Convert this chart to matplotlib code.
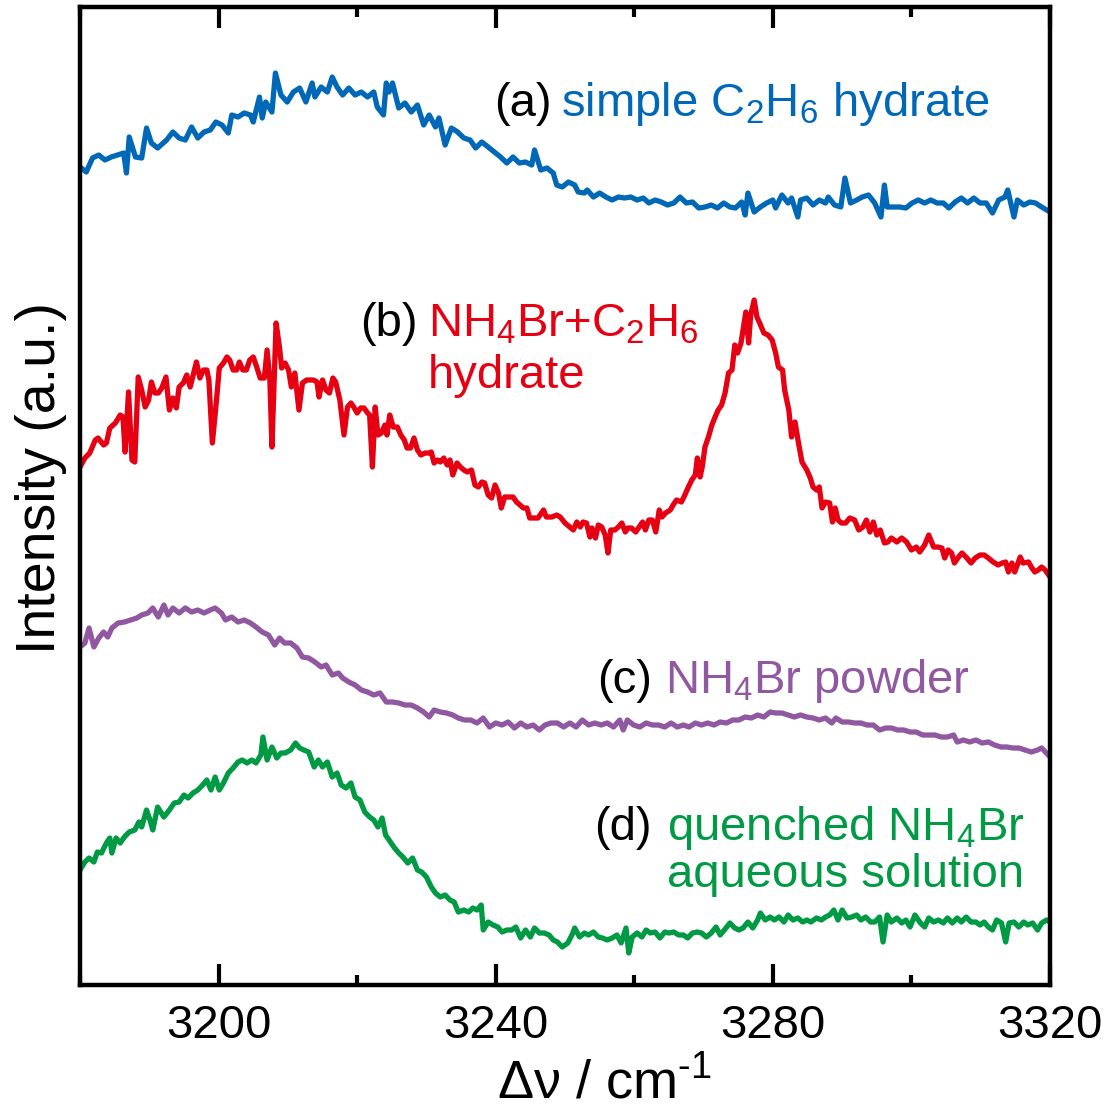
import matplotlib
matplotlib.use('Agg')
import matplotlib.pyplot as plt
from matplotlib.ticker import MultipleLocator

plt.rcParams['font.family'] = ['Liberation Sans', 'DejaVu Sans']
plt.rcParams['mathtext.fontset'] = 'custom'
plt.rcParams['mathtext.rm'] = 'Liberation Sans'
plt.rcParams['mathtext.it'] = 'Liberation Sans:italic'
plt.rcParams['mathtext.bf'] = 'Liberation Sans:bold'

# (a) simple C2H6 hydrate
wn_a = [3180.0, 3180.9, 3181.8, 3182.7, 3183.6, 3184.5, 3185.4, 3186.3, 3186.7, 3187.1,
        3188.0, 3188.9, 3189.6, 3190.3, 3191.2, 3192.5, 3193.4, 3194.3, 3195.2, 3196.1,
        3197.0, 3197.9, 3198.8, 3199.6, 3200.5, 3201.4, 3201.9, 3202.8, 3203.7, 3204.6,
        3205.0, 3205.9, 3206.3, 3206.8, 3207.7, 3208.2, 3209.0, 3209.9, 3210.8, 3211.7,
        3212.6, 3213.5, 3213.9, 3214.8, 3215.7, 3216.4, 3217.1, 3217.9, 3218.8, 3219.7,
        3220.6, 3221.5, 3222.4, 3222.9, 3223.8, 3224.2, 3224.6, 3225.1, 3226.0, 3226.9,
        3227.8, 3228.7, 3229.6, 3230.4, 3231.3, 3231.8, 3232.7, 3233.6, 3234.5, 3235.4,
        3236.3, 3237.1, 3238.0, 3238.9, 3239.8, 3240.7, 3241.6, 3242.5, 3243.4, 3244.3,
        3245.2, 3245.6, 3246.5, 3247.4, 3248.3, 3248.8, 3249.6, 3250.5, 3251.4, 3251.9,
        3252.8, 3253.2, 3254.1, 3255.0, 3255.9, 3256.8, 3257.7, 3258.6, 3259.5, 3260.4,
        3261.3, 3262.1, 3263.0, 3263.9, 3264.8, 3265.7, 3266.6, 3267.5, 3268.4, 3269.3,
        3270.2, 3271.1, 3272.0, 3272.9, 3273.8, 3274.6, 3275.5, 3276.0, 3276.4, 3277.3,
        3278.2, 3279.1, 3280.0, 3280.4, 3281.3, 3282.2, 3282.7, 3283.6, 3284.0, 3284.9,
        3285.8, 3286.7, 3287.6, 3288.0, 3288.9, 3289.8, 3290.4, 3291.2, 3292.1, 3292.9,
        3293.8, 3294.7, 3295.6, 3296.1, 3296.5, 3297.4, 3298.3, 3299.2, 3300.1, 3301.0,
        3301.9, 3302.8, 3303.7, 3304.6, 3305.4, 3306.3, 3307.2, 3308.1, 3309.0, 3309.9,
        3310.8, 3311.7, 3312.6, 3313.5, 3313.9, 3314.8, 3315.3, 3316.2, 3317.1, 3317.9,
        3318.8, 3320.0]
int_a = [81.8, 81.3, 82.7, 83.0, 82.5, 82.8, 83.0, 83.2, 81.2, 84.8,
         82.8, 82.7, 85.7, 84.2, 83.7, 84.5, 85.3, 84.7, 84.5, 85.8,
         84.7, 85.3, 85.5, 86.3, 86.0, 85.2, 87.0, 86.8, 87.2, 87.0,
         86.3, 88.8, 86.7, 88.3, 87.3, 91.2, 89.0, 88.3, 89.3, 89.7,
         88.3, 90.2, 88.8, 89.8, 89.3, 90.8, 89.8, 89.0, 89.7, 89.0,
         89.3, 88.8, 89.3, 87.8, 87.0, 90.2, 89.3, 90.2, 87.7, 88.2,
         87.3, 88.0, 86.0, 87.0, 85.8, 86.7, 84.0, 85.7, 85.3, 84.7,
         84.5, 83.7, 84.3, 83.8, 83.3, 82.8, 82.2, 82.8, 82.2, 82.3,
         82.0, 83.5, 81.5, 81.7, 81.2, 80.0, 79.8, 80.3, 80.0, 79.3,
         79.2, 79.5, 78.8, 79.2, 78.8, 78.5, 78.8, 78.7, 78.8, 78.5,
         78.7, 78.2, 78.5, 78.3, 78.0, 78.2, 78.8, 78.2, 78.3, 77.7,
         77.8, 78.0, 77.7, 78.2, 77.8, 77.7, 78.3, 77.0, 79.2, 77.3,
         77.8, 78.2, 78.5, 77.7, 79.0, 78.2, 78.7, 76.8, 78.5, 78.7,
         78.0, 78.5, 78.2, 78.8, 78.0, 77.8, 80.7, 78.2, 78.5, 78.8,
         79.0, 78.2, 76.8, 80.0, 77.8, 77.8, 77.8, 77.7, 78.2, 78.5,
         78.2, 78.5, 78.2, 78.2, 77.7, 78.3, 78.7, 78.2, 78.7, 78.2,
         78.2, 77.2, 78.5, 78.8, 79.5, 76.8, 78.5, 78.0, 78.3, 78.2,
         77.8, 77.3]

# (b) NH4Br + C2H6 hydrate
wn_b = [3180.0, 3180.7, 3181.4, 3182.2, 3182.6, 3183.4, 3183.8, 3184.3, 3185.1, 3185.8,
        3186.2, 3186.5, 3187.0, 3187.5, 3187.9, 3188.4, 3188.9, 3189.4, 3189.9, 3190.3,
        3190.8, 3191.3, 3191.8, 3192.4, 3192.9, 3193.4, 3193.9, 3194.3, 3194.9, 3195.4,
        3195.9, 3196.4, 3196.8, 3197.3, 3197.8, 3198.3, 3198.6, 3199.1, 3199.7, 3200.1,
        3200.7, 3201.2, 3201.6, 3202.1, 3202.6, 3203.0, 3203.5, 3204.0, 3204.5, 3205.0,
        3205.5, 3206.0, 3206.6, 3207.0, 3207.4, 3207.7, 3208.3, 3208.8, 3209.1, 3209.6,
        3210.1, 3210.5, 3211.0, 3211.6, 3212.1, 3212.7, 3213.2, 3213.7, 3214.2, 3214.5,
        3215.0, 3215.5, 3216.0, 3216.5, 3216.9, 3217.5, 3218.1, 3218.6, 3219.1, 3219.5,
        3220.0, 3220.5, 3221.0, 3221.5, 3221.8, 3222.2, 3222.6, 3223.0, 3223.5, 3224.0,
        3224.3, 3224.7, 3225.2, 3225.8, 3226.3, 3226.8, 3227.2, 3227.7, 3228.2, 3228.7,
        3229.2, 3229.8, 3230.4, 3230.7, 3231.1, 3231.6, 3232.0, 3232.5, 3233.0, 3233.4,
        3233.8, 3234.4, 3234.9, 3235.4, 3235.9, 3236.5, 3237.0, 3237.5, 3238.0, 3238.4,
        3238.9, 3239.4, 3239.9, 3240.4, 3240.8, 3241.3, 3242.0, 3242.5, 3243.0, 3243.5,
        3244.0, 3244.5, 3244.9, 3245.7, 3246.1, 3246.9, 3247.3, 3248.1, 3248.8, 3249.3,
        3250.0, 3250.7, 3251.2, 3251.7, 3252.2, 3252.6, 3253.1, 3253.6, 3253.9, 3254.4,
        3254.8, 3255.3, 3255.8, 3256.2, 3256.6, 3257.2, 3257.7, 3258.2, 3258.7, 3259.1,
        3259.6, 3260.2, 3260.7, 3261.2, 3261.6, 3262.1, 3262.6, 3263.1, 3263.6, 3264.0,
        3264.5, 3265.2, 3265.6, 3266.1, 3266.8, 3267.3, 3267.8, 3268.3, 3268.8, 3269.1,
        3269.5, 3269.8, 3270.2, 3270.7, 3271.2, 3271.6, 3272.1, 3272.6, 3273.1, 3273.6,
        3274.1, 3274.5, 3274.9, 3275.4, 3275.7, 3276.1, 3276.5, 3276.8, 3277.3, 3277.7,
        3278.1, 3278.7, 3279.3, 3279.9, 3280.4, 3280.8, 3281.4, 3281.7, 3282.3, 3282.7,
        3283.2, 3283.7, 3284.2, 3284.9, 3285.4, 3285.8, 3286.3, 3286.7, 3287.1, 3287.6,
        3288.2, 3288.6, 3289.0, 3289.4, 3289.9, 3290.5, 3291.1, 3291.8, 3292.4, 3293.0,
        3293.5, 3294.0, 3294.5, 3295.0, 3295.5, 3296.1, 3296.6, 3297.1, 3297.9, 3298.6,
        3299.3, 3300.0, 3300.7, 3301.2, 3301.9, 3302.5, 3303.2, 3303.8, 3304.4, 3304.8,
        3305.3, 3305.8, 3306.2, 3306.8, 3307.3, 3308.0, 3308.6, 3309.2, 3309.9, 3310.5,
        3311.1, 3311.8, 3312.5, 3313.1, 3313.6, 3314.0, 3314.5, 3314.9, 3315.7, 3316.1,
        3316.9, 3317.3, 3317.8, 3318.3, 3318.8, 3319.3, 3320.0]
int_b = [51.8, 52.7, 53.2, 54.5, 54.7, 54.0, 54.2, 55.7, 56.2, 57.0,
         56.8, 53.3, 59.3, 52.5, 52.3, 60.8, 59.5, 57.8, 58.5, 60.3,
         59.2, 59.2, 59.7, 60.8, 57.5, 58.7, 57.7, 59.8, 60.2, 61.0,
         59.8, 61.2, 62.3, 60.7, 61.5, 61.5, 60.5, 54.2, 58.5, 61.7,
         62.2, 62.8, 62.5, 61.5, 61.5, 62.3, 61.5, 61.5, 62.5, 62.8,
         61.8, 60.7, 60.7, 63.5, 60.5, 53.8, 66.2, 63.7, 61.7, 62.2,
         61.5, 59.8, 61.2, 57.5, 60.2, 60.5, 60.5, 60.5, 60.3, 58.8,
         60.5, 59.5, 59.2, 60.7, 60.3, 58.5, 55.0, 57.8, 58.2, 57.8,
         57.2, 57.7, 57.7, 57.2, 57.0, 51.8, 57.8, 55.0, 55.2, 56.0,
         55.0, 57.0, 55.8, 55.8, 55.0, 54.5, 53.7, 53.7, 54.7, 53.5,
         53.0, 53.2, 53.2, 53.3, 52.2, 52.5, 52.3, 52.7, 52.0, 52.5,
         51.0, 52.2, 51.8, 51.5, 51.3, 51.5, 50.0, 49.8, 50.3, 50.2,
         49.0, 48.7, 50.0, 49.2, 47.7, 48.8, 48.8, 48.8, 48.3, 48.0,
         47.7, 47.7, 46.7, 46.7, 46.7, 47.5, 46.8, 46.8, 47.0, 46.8,
         46.2, 45.8, 45.5, 46.3, 45.8, 46.3, 46.2, 44.8, 45.7, 44.7,
         46.0, 45.8, 45.0, 43.2, 45.5, 45.5, 45.8, 46.2, 45.3, 45.7,
         45.7, 45.3, 45.8, 46.3, 45.5, 46.5, 46.5, 45.3, 47.5, 46.8,
         47.2, 47.5, 48.0, 48.5, 48.3, 49.0, 49.8, 50.5, 51.0, 52.7,
         50.8, 51.8, 53.8, 54.8, 56.0, 56.7, 57.5, 58.0, 59.2, 61.2,
         61.5, 64.0, 63.2, 64.2, 65.5, 67.3, 64.2, 67.0, 68.5, 66.8,
         66.2, 65.2, 65.0, 64.5, 63.2, 61.8, 61.5, 59.5, 57.5, 54.8,
         56.3, 54.2, 52.3, 51.5, 50.7, 49.8, 49.5, 49.8, 47.7, 48.3,
         48.2, 46.3, 47.7, 46.5, 46.2, 46.2, 46.7, 46.5, 45.5, 45.8,
         46.5, 45.3, 46.3, 45.0, 45.5, 44.2, 44.3, 44.7, 44.3, 44.7,
         44.3, 43.5, 43.8, 43.3, 44.0, 45.0, 43.8, 43.8, 43.7, 42.7,
         43.5, 43.2, 42.2, 42.8, 43.2, 42.7, 42.2, 42.7, 43.0, 43.0,
         42.7, 42.3, 42.0, 42.2, 42.3, 41.3, 42.2, 41.3, 42.8, 42.2,
         42.3, 41.8, 41.3, 41.5, 41.8, 41.5, 40.8]

# (c) NH4Br powder
wn_c = [3180.0, 3180.7, 3181.3, 3182.0, 3182.7, 3183.4, 3184.0, 3184.6, 3185.5, 3186.4,
        3187.3, 3188.2, 3188.9, 3189.8, 3190.5, 3191.3, 3192.1, 3192.7, 3193.4, 3194.3,
        3195.2, 3196.1, 3197.0, 3197.9, 3198.8, 3199.5, 3200.4, 3201.0, 3201.9, 3202.8,
        3203.7, 3204.6, 3205.4, 3206.3, 3207.2, 3208.1, 3208.8, 3209.5, 3210.4, 3211.3,
        3212.1, 3213.0, 3213.9, 3214.8, 3215.5, 3216.4, 3217.3, 3217.9, 3218.8, 3219.7,
        3220.6, 3221.5, 3222.4, 3223.3, 3224.2, 3225.1, 3226.0, 3226.9, 3227.8, 3228.7,
        3229.6, 3230.4, 3231.1, 3232.0, 3232.9, 3233.8, 3234.6, 3235.5, 3236.4, 3237.3,
        3238.2, 3239.1, 3240.0, 3240.9, 3241.8, 3242.7, 3243.6, 3244.5, 3245.4, 3246.3,
        3247.1, 3248.0, 3248.9, 3249.8, 3250.7, 3251.6, 3252.5, 3253.4, 3254.3, 3255.2,
        3256.1, 3257.0, 3257.9, 3258.4, 3259.0, 3259.9, 3260.8, 3261.7, 3262.6, 3263.5,
        3264.4, 3265.3, 3266.2, 3267.1, 3267.9, 3268.8, 3269.7, 3270.6, 3271.5, 3272.4,
        3273.3, 3274.2, 3275.1, 3276.0, 3276.9, 3277.8, 3278.7, 3279.6, 3280.4, 3281.3,
        3282.2, 3283.1, 3284.0, 3284.9, 3285.8, 3286.7, 3287.6, 3288.5, 3289.1, 3290.0,
        3290.9, 3291.8, 3292.7, 3293.6, 3294.5, 3295.4, 3296.3, 3297.1, 3298.0, 3298.9,
        3299.8, 3300.7, 3301.6, 3302.5, 3303.4, 3304.3, 3305.2, 3306.1, 3306.6, 3307.5,
        3308.4, 3309.3, 3310.2, 3311.1, 3312.0, 3312.9, 3313.8, 3314.6, 3315.5, 3316.4,
        3317.3, 3318.2, 3318.8, 3320.0]
int_c = [33.8, 34.2, 35.7, 33.8, 34.7, 35.3, 34.8, 35.7, 36.2, 36.3,
         36.5, 36.7, 37.0, 37.2, 37.7, 36.8, 38.0, 37.0, 37.7, 37.2,
         37.7, 37.3, 37.5, 37.2, 37.5, 37.7, 37.2, 36.5, 36.8, 36.3,
         36.5, 36.2, 35.8, 35.3, 35.0, 34.0, 34.7, 34.2, 34.2, 33.7,
         32.8, 32.7, 32.3, 31.8, 32.0, 31.0, 31.2, 30.7, 30.3, 30.0,
         29.5, 29.3, 29.0, 29.2, 28.3, 28.3, 28.2, 28.0, 28.0, 27.7,
         27.3, 26.8, 27.5, 27.3, 27.2, 27.0, 26.7, 26.5, 26.5, 26.2,
         26.7, 25.8, 26.2, 26.0, 26.3, 25.7, 26.2, 25.8, 26.0, 25.5,
         26.0, 26.2, 26.2, 25.8, 26.2, 25.8, 26.5, 26.0, 26.2, 26.0,
         26.2, 25.8, 26.5, 25.5, 26.5, 26.0, 25.8, 26.2, 26.0, 26.0,
         25.8, 26.2, 25.8, 26.0, 25.8, 26.2, 26.0, 26.2, 26.0, 26.3,
         26.2, 26.5, 26.5, 26.8, 26.7, 27.0, 26.8, 27.3, 27.2, 27.2,
         27.0, 26.8, 27.0, 26.8, 26.7, 26.5, 26.7, 26.2, 26.7, 26.3,
         26.3, 26.2, 26.2, 26.0, 26.0, 25.5, 25.7, 25.7, 25.5, 25.5,
         25.3, 25.3, 25.0, 25.0, 25.0, 24.8, 24.8, 25.0, 24.3, 24.5,
         24.3, 24.5, 24.2, 24.3, 24.0, 23.8, 23.8, 23.7, 23.7, 23.5,
         23.3, 23.5, 23.7, 22.8]

# (d) quenched NH4Br aqueous solution
wn_d = [3180.0, 3180.7, 3181.3, 3182.0, 3182.5, 3183.1, 3183.8, 3184.3, 3184.6, 3185.2,
        3185.8, 3186.4, 3187.1, 3187.9, 3188.5, 3188.9, 3189.6, 3190.1, 3190.5, 3191.2,
        3192.1, 3192.9, 3193.6, 3194.3, 3195.0, 3195.6, 3196.3, 3197.0, 3197.7, 3198.3,
        3198.9, 3199.5, 3200.1, 3200.7, 3201.4, 3202.1, 3202.8, 3203.4, 3204.1, 3204.8,
        3205.4, 3206.1, 3206.4, 3207.0, 3207.7, 3208.4, 3209.0, 3209.6, 3210.4, 3211.1,
        3211.7, 3212.3, 3213.0, 3213.8, 3214.4, 3215.0, 3215.7, 3216.4, 3217.1, 3217.7,
        3218.4, 3219.1, 3219.7, 3220.4, 3221.1, 3221.8, 3222.4, 3223.0, 3223.6, 3224.1,
        3224.6, 3225.4, 3226.0, 3226.6, 3227.3, 3228.0, 3228.7, 3229.3, 3230.0, 3230.7,
        3231.3, 3232.0, 3232.7, 3233.4, 3234.0, 3234.6, 3235.4, 3236.1, 3236.7, 3237.3,
        3237.9, 3238.2, 3238.9, 3239.6, 3240.3, 3240.9, 3241.6, 3242.3, 3242.9, 3243.6,
        3244.3, 3245.0, 3245.6, 3246.3, 3247.0, 3247.7, 3248.3, 3248.9, 3249.6, 3250.4,
        3251.0, 3251.4, 3252.1, 3252.8, 3253.4, 3254.1, 3254.8, 3255.4, 3256.1, 3256.8,
        3257.5, 3258.1, 3258.8, 3259.2, 3259.7, 3260.4, 3261.1, 3261.7, 3262.3, 3263.0,
        3263.7, 3264.4, 3265.0, 3265.7, 3266.4, 3267.1, 3267.7, 3268.4, 3269.1, 3269.7,
        3270.4, 3271.1, 3271.8, 3272.4, 3273.0, 3273.8, 3274.5, 3275.1, 3275.7, 3276.4,
        3277.1, 3277.8, 3278.2, 3278.9, 3279.6, 3280.2, 3280.9, 3281.6, 3282.2, 3282.9,
        3283.6, 3284.3, 3284.9, 3285.5, 3286.3, 3287.0, 3287.6, 3288.2, 3288.8, 3289.4,
        3290.0, 3290.7, 3291.4, 3292.1, 3292.7, 3293.4, 3294.1, 3294.7, 3295.4, 3295.9,
        3296.5, 3297.1, 3297.9, 3298.6, 3299.2, 3299.8, 3300.5, 3301.3, 3301.9, 3302.5,
        3303.2, 3303.9, 3304.6, 3305.2, 3305.9, 3306.6, 3307.2, 3307.9, 3308.6, 3309.3,
        3309.9, 3310.5, 3311.1, 3311.7, 3312.3, 3313.0, 3313.6, 3314.1, 3314.8, 3315.5,
        3316.2, 3316.8, 3317.5, 3318.2, 3318.8, 3319.5, 3320.0]
int_d = [11.5, 12.3, 12.7, 12.3, 13.3, 13.2, 14.2, 14.7, 13.2, 14.7,
         14.2, 14.8, 15.3, 15.5, 16.3, 15.8, 17.5, 16.5, 15.5, 17.8,
         16.8, 17.5, 18.2, 18.3, 19.0, 18.7, 19.2, 19.5, 20.0, 20.5,
         19.5, 20.8, 19.5, 20.2, 21.2, 21.7, 22.3, 22.5, 22.2, 22.5,
         22.2, 23.0, 24.8, 22.5, 23.8, 22.7, 23.2, 23.2, 23.5, 24.2,
         23.7, 23.5, 23.3, 21.8, 22.5, 21.8, 22.3, 20.8, 21.2, 20.0,
         19.7, 20.2, 18.8, 18.5, 17.3, 16.8, 16.5, 15.8, 16.7, 15.0,
         14.5, 13.7, 13.2, 12.8, 12.2, 12.7, 11.5, 11.3, 10.8, 9.8,
         9.2, 8.8, 9.0, 8.5, 8.3, 7.3, 7.5, 7.3, 7.7, 7.5,
         8.0, 5.5, 6.3, 6.0, 5.8, 5.3, 5.5, 5.5, 5.8, 4.7,
         5.5, 4.8, 5.7, 5.2, 5.2, 5.0, 4.5, 4.3, 3.8, 4.2,
         5.0, 5.7, 4.8, 5.2, 5.0, 5.3, 4.8, 4.7, 4.5, 4.7,
         5.0, 4.2, 5.7, 3.2, 4.8, 5.2, 4.8, 5.5, 5.2, 5.3,
         4.7, 5.3, 5.2, 5.3, 5.0, 5.0, 4.7, 5.2, 5.3, 5.2,
         4.8, 5.2, 5.8, 5.0, 5.5, 6.2, 5.7, 5.5, 5.7, 6.3,
         5.7, 6.5, 7.2, 6.5, 6.8, 6.5, 6.8, 6.3, 7.0, 6.5,
         6.7, 6.3, 6.5, 6.3, 6.7, 6.5, 6.8, 7.0, 7.5, 6.5,
         7.5, 6.7, 6.8, 7.0, 6.5, 6.8, 6.3, 6.3, 6.8, 4.3,
         7.0, 6.3, 6.7, 6.2, 6.5, 5.8, 7.0, 6.2, 5.8, 6.7,
         6.3, 6.5, 6.2, 6.7, 6.2, 6.7, 6.3, 6.8, 6.3, 6.3,
         6.0, 6.3, 5.8, 5.5, 6.5, 6.2, 4.3, 6.2, 6.3, 5.8,
         6.3, 6.0, 6.2, 5.5, 6.2, 6.5, 6.3]

colors = ['#0068b7', '#e60012', '#9158a2', '#009944']

fig = plt.figure(figsize=(11.13, 11.13), dpi=100)
ax = fig.add_axes([0.0719, 0.115, 0.8715, 0.8787])

ax.plot(wn_a, int_a, color=colors[0], lw=3.8)
ax.plot(wn_b, int_b, color=colors[1], lw=3.8)
ax.plot(wn_c, int_c, color=colors[2], lw=3.8)
ax.plot(wn_d, int_d, color=colors[3], lw=3.8)

ax.set_xlim(3180, 3320)
ax.set_ylim(0, 97.8)
ax.xaxis.set_major_locator(MultipleLocator(40))
ax.xaxis.set_minor_locator(MultipleLocator(20))
ax.set_yticks([])
ax.tick_params(axis='x', which='both', direction='in', top=True, bottom=True, width=3)
ax.tick_params(axis='x', which='major', length=15, labelsize=34, pad=14)
ax.tick_params(axis='x', which='minor', length=7)
for s in ax.spines.values():
    s.set_linewidth(3.2)

ax.set_xlabel('\u0394\u03bd / cm$^{\u20101}$', fontsize=39)
ax.xaxis.set_label_coords(0.541, -0.074)
ax.set_ylabel('Intensity (a.u.)', fontsize=40)
ax.yaxis.set_label_coords(-0.013, 0.518)


def tag(xr, xl, ys, letter, lines, color):
    ax.text(xr, ys[0], letter, transform=ax.transAxes, ha='right', va='baseline',
            fontsize=34, color='black')
    for y, s in zip(ys, lines):
        ax.text(xl, y, s, transform=ax.transAxes, ha='left', va='baseline',
                fontsize=34, color=color)


tag(0.4866, 0.4959, [0.8885], '(a)', [r'simple C$_2$H$_6$ hydrate'], colors[0])
tag(0.3485, 0.3588, [0.6636, 0.6104], '(b)', [r'NH$_4$Br+C$_2$H$_6$', 'hydrate'], colors[1])
tag(0.5897, 0.6031, [0.2986], '(c)', [r'NH$_4$Br powder'], colors[2])
tag(0.5897, 0.6052, [0.1483, 0.1002], '(d)', [r'quenched NH$_4$Br', 'aqueous solution'], colors[3])

fig.savefig('out.png', dpi=100)
